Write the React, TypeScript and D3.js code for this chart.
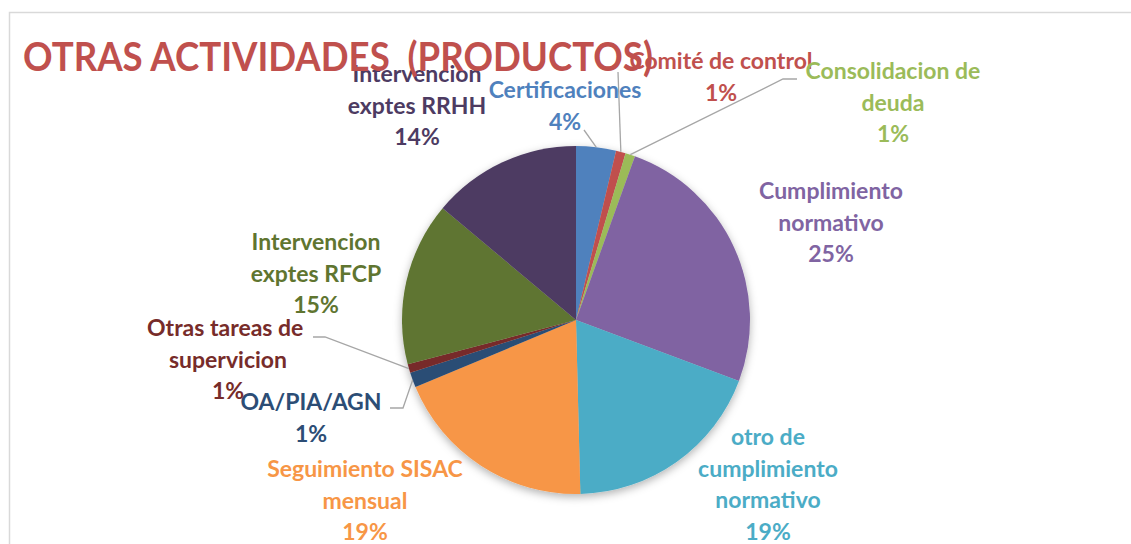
import React from "react";
import * as d3 from "d3";

// chart data
const categories = [
  "Certificaciones",
  "Comité de control",
  "Consolidacion de deuda",
  "Cumplimiento normativo",
  "otro de cumplimiento normativo",
  "Seguimiento SISAC mensual",
  "OA/PIA/AGN",
  "Otras tareas de supervicion",
  "Intervencion exptes RFCP",
  "Intervencion exptes RRHH",
];
const values = [3.7, 0.9, 0.9, 25.2, 18.9, 19.1, 1.4, 0.8, 15.2, 13.9];
const labelLines = [
  ["Certificaciones"],
  ["Comité de control"],
  ["Consolidacion de", "deuda"],
  ["Cumplimiento", "normativo"],
  ["otro de", "cumplimiento", "normativo"],
  ["Seguimiento SISAC", "mensual"],
  ["OA/PIA/AGN"],
  ["Otras tareas de ", "supervicion"],
  ["Intervencion", "exptes RFCP"],
  ["Intervencion", "exptes RRHH"],
];
const colors = [
  "#4F81BD", "#C0504D", "#9BBB59", "#8064A2", "#4BACC6",
  "#F79646", "#2C4D75", "#772C2A", "#5F7530", "#4D3B62",
];

// label placement (center x, first baseline y) and leader line knee, if any
const labelPos: { x: number; y: number; leader?: [number, number][] }[] = [
  { x: 565, y: 98, leader: [[584, 130]] },
  { x: 721, y: 69, leader: [[618, 72]] },
  { x: 893, y: 79, leader: [[783, 79], [797, 79]] },
  { x: 831, y: 199 },
  { x: 768, y: 445 },
  { x: 365, y: 477 },
  { x: 311, y: 410, leader: [[403, 408], [390, 408]] },
  { x: 228, y: 336, leader: [[325, 337], [313, 337]] },
  { x: 316, y: 250 },
  { x: 417, y: 82 },
];

const W = 1131;
const H = 544;
const cx = 576;
const cy = 320;
const radius = 174;
const lineH = 31.5;
const font = "Lato, 'Open Sans', sans-serif";

export default function App() {
  const pie = d3.pie<number>().sort(null).value((d) => d).startAngle(0).endAngle(2 * Math.PI);
  const arcs = pie(values);
  const total = d3.sum(values);
  const arc = d3.arc<d3.PieArcDatum<number>>().innerRadius(0).outerRadius(radius);

  return (
    <svg
      width={W}
      height={H}
      style={{ position: "absolute", left: 0, top: 0, background: "#fff" }}
    >
      <defs>
        <filter id="shadow" x="-20%" y="-20%" width="140%" height="140%">
          <feDropShadow dx="0" dy="3" stdDeviation="4" floodColor="#000" floodOpacity="0.3" />
        </filter>
      </defs>
      {/* chart frame */}
      <path d={`M9.5,${H} V12.5 H${W}`} fill="none" stroke="#d9d9d9" strokeWidth={1.5} />

      <g transform={`translate(${cx},${cy})`} filter="url(#shadow)">
        {arcs.map((a, i) => (
          <path key={categories[i]} d={arc(a) || ""} fill={colors[i]} />
        ))}
      </g>

      {/* leader lines */}
      {arcs.map((a, i) => {
        const lp = labelPos[i];
        if (!lp.leader) return null;
        const mid = (a.startAngle + a.endAngle) / 2;
        const sx = cx + radius * Math.sin(mid);
        const sy = cy - radius * Math.cos(mid);
        const pts: [number, number][] = [[sx, sy], ...lp.leader];
        return (
          <path
            key={"l" + i}
            d={d3.line()(pts) || ""}
            fill="none"
            stroke="#a6a6a6"
            strokeWidth={1.3}
          />
        );
      })}

      {/* data labels */}
      {arcs.map((a, i) => {
        const lp = labelPos[i];
        const pct = Math.round((a.value / total) * 100) + "%";
        const lines = [...labelLines[i], pct];
        return (
          <text
            key={"t" + i}
            x={lp.x}
            y={lp.y}
            textAnchor="middle"
            fill={colors[i]}
            fontFamily={font}
            fontWeight="bold"
            fontSize={23}
            style={{ whiteSpace: "pre" }}
          >
            {lines.map((ln, j) => (
              <tspan key={j} x={lp.x} y={lp.y + j * lineH}>
                {ln}
              </tspan>
            ))}
          </text>
        );
      })}

      {/* title */}
      <text
        x={23}
        y={71}
        fill="#C0504D"
        fontFamily={font}
        fontWeight="bold"
        fontSize={40}
        textLength={630}
        lengthAdjust="spacingAndGlyphs"
        style={{ whiteSpace: "pre" }}
      >
        {"OTRAS ACTIVIDADES  (PRODUCTOS)"}
      </text>
    </svg>
  );
}
